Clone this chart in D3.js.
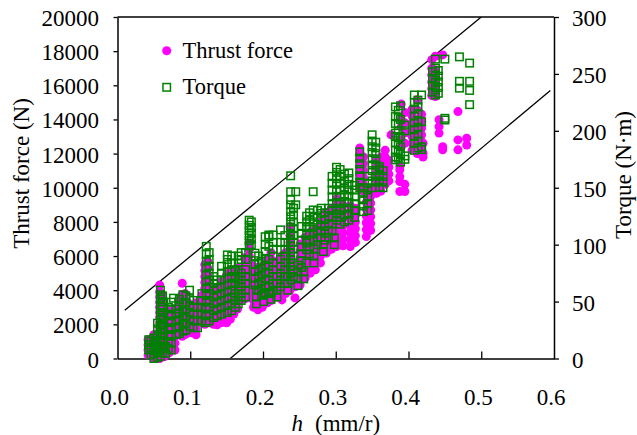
<!DOCTYPE html>
<html>
<head>
<meta charset="utf-8">
<script src="https://cdn.jsdelivr.net/npm/d3@7"></script>
</head>
<body style="margin:0">
<svg id="chart" width="637" height="435"></svg>
<script>
// Axis ticks
const hTicks = [0, 0.1, 0.2, 0.3, 0.4, 0.5, 0.6];
const thrustTicks = [0, 2000, 4000, 6000, 8000, 10000, 12000, 14000, 16000, 18000, 20000];
const torqueTicks = [0, 50, 100, 150, 200, 250, 300];

// Thrust force (N), grouped by feed per revolution h (mm/r)
const thrustGroups = [
  [0.042, [200, 500, 800, 1100]],
  [0.050, [0, 250, 550, 850, 1150, 1390]],
  [0.054, [100, 400, 700, 1000, 1300]],
  [0.058, [0, 300, 600, 900, 1200, 1500, 1800, 2100, 2400, 2700, 3000, 3300, 3600, 3900, 4300]],
  [0.061, [150, 450, 750, 1050, 1350, 1650, 1950, 2250, 2550, 2850, 3150, 3450, 3750]],
  [0.064, [100, 450, 800, 1200]],
  [0.071, [330, 700, 1050, 1400, 1750, 2100, 2450, 2800]],
  [0.075, [500, 850, 1200, 1550, 1900, 2250, 2600]],
  [0.079, [500, 900, 1300, 1700, 2100, 2500, 2850]],
  [0.084, [1400, 1800, 2200, 2600, 3000, 3400]],
  [0.089, [1300, 1650, 2000, 2350, 2700, 3050, 3400, 3750, 4400]],
  [0.093, [1400, 1800, 2200, 2600, 3000, 3400, 3800]],
  [0.097, [1500, 1850, 2200, 2550, 2900, 3250]],
  [0.103, [1500, 1900, 2300, 2700, 3100]],
  [0.108, [1390, 1750, 2100, 2450, 2800, 3260]],
  [0.116, [2100, 2500, 2900, 3300, 3700]],
  [0.120, [2000, 2350, 2700, 3050, 3400, 3750, 4100, 4450, 4800, 5150, 5500]],
  [0.124, [2150, 2500, 2850, 3200, 3550, 3900, 4250, 4600, 4950, 5300, 5700]],
  [0.127, [2200, 2600, 3000, 3400, 3800]],
  [0.132, [2000, 2400, 2800, 3200, 3600, 4000]],
  [0.137, [1970, 2350, 2700, 3050, 3400, 3750, 4100]],
  [0.143, [2100, 2500, 2900, 3300, 3700, 4100, 4500]],
  [0.150, [2090, 2450, 2800, 3150, 3500, 3850, 4200, 4550, 4900]],
  [0.155, [2300, 2700, 3100, 3500, 3900, 4300, 4700, 5100]],
  [0.160, [2600, 2950, 3300, 3650, 4000, 4350, 4700, 5050]],
  [0.165, [2900, 3300, 3700, 4100, 4500, 4900, 5300]],
  [0.170, [3430, 3750, 4100, 4450, 4800, 5150]],
  [0.175, [3500, 3900, 4300, 4700, 5100, 5500, 5900]],
  [0.181, [3600, 4000, 4400, 4800, 5200, 5600, 6000, 6400, 6760]],
  [0.187, [3000, 3400, 3800, 4200, 4600, 5000, 5400]],
  [0.193, [2850, 3200, 3550, 3900, 4250, 4600, 5000]],
  [0.199, [3000, 3400, 3800, 4200, 4600, 5000, 5400]],
  [0.206, [3260, 3600, 3950, 4300, 4650, 5000, 5400, 5800]],
  [0.211, [3400, 3800, 4200, 4600, 5000, 5400, 5800, 6200]],
  [0.216, [3600, 3950, 4300, 4650, 5000, 5350, 5700]],
  [0.221, [3600, 4000, 4400, 4800, 5200, 5600]],
  [0.226, [3430, 3800, 4020, 4400, 4800, 5200, 5600, 6000]],
  [0.231, [3800, 4200, 4600, 5000, 5400, 5800, 6200]],
  [0.237, [4000, 4400, 4800, 5200, 5600, 6000, 6400, 6800, 7200, 7730]],
  [0.244, [3550, 4200, 4600, 5000, 5400]],
  [0.251, [4300, 4700, 5100, 5500, 5900, 6300, 6700]],
  [0.258, [4720, 5100, 5500, 5900, 6300, 6700, 7100]],
  [0.265, [5000, 5400, 5800, 6200, 6600, 7000, 7400]],
  [0.272, [5200, 5600, 6000, 6360, 6800, 7200, 7600]],
  [0.279, [5600, 6000, 6400, 6800, 7200, 7600, 8000]],
  [0.287, [6170, 6560, 6950, 7350, 7750, 8150, 8550]],
  [0.294, [6400, 6800, 7200, 7600, 8000, 8400, 8800]],
  [0.301, [6560, 6950, 7350, 7750, 8150, 8550, 8950, 9350]],
  [0.310, [6600, 7000, 7400, 7800, 8200, 8600, 9000]],
  [0.320, [6560, 6950, 7350, 7750, 8150, 8550, 8950]],
  [0.327, [6800, 7200, 7600, 8000, 8400, 8800]],
  [0.333, [10000, 10400, 10800, 11200, 11600, 12000, 12330]],
  [0.338, [9800, 10200, 10600, 11000, 11400, 11800]],
  [0.342, [7140, 7550, 7950, 8350, 8750, 9150, 9550]],
  [0.348, [7500, 7900, 8300, 8700, 9100, 9500, 9900]],
  [0.356, [9680, 10050, 10450, 10850, 11240, 11640]],
  [0.362, [9800, 10200, 10600, 11000, 11400, 11800]],
  [0.368, [10200, 10600, 11000, 11400, 11800, 12200]],
  [0.373, [10400, 10800, 11200, 11600]],
  [0.376, [13100]],
  [0.388, [9780, 10360, 10650, 11050, 11240]],
  [0.390, [12400, 12800, 13580, 14000, 14900]],
  [0.395, [9780, 10200, 12600, 13200, 13800, 14400]],
  [0.405, [12200, 12600, 13000, 13400, 13800, 14200, 14600]],
  [0.412, [12000, 12400, 12800, 13200, 13600, 14000, 14560, 15150]],
  [0.418, [12300, 12700, 13100, 13500, 13900, 14300]],
  [0.420, [11800, 12020, 12610]],
  [0.432, [15400, 15800, 16200, 16600, 17000, 17500]],
  [0.437, [15340, 15700, 16100, 16500, 16900, 17700]],
  [0.442, [13200, 13580, 13980]],
  [0.447, [12220, 12400, 17780]],
  [0.468, [12220, 12800, 14460]],
  [0.480, [12500, 12900]]
];

// Torque (N·m), grouped by feed per revolution h (mm/r)
const torqueGroups = [
  [0.043, [7.5, 12, 16.5]],
  [0.046, [3, 9, 15]],
  [0.050, [0, 4.5, 9, 13.5, 18]],
  [0.055, [1, 6, 11, 16, 21, 26, 31]],
  [0.059, [2, 7, 11, 16, 20, 25, 29, 34, 38, 43, 47, 52, 56, 60]],
  [0.062, [5, 10, 15, 20, 25, 30, 35, 40, 45, 50, 55]],
  [0.066, [4.5, 10.5]],
  [0.070, [9, 15, 21, 27, 33, 39, 45]],
  [0.074, [7.5, 13.5, 19.5, 25.5, 31.5, 37.5, 43.5, 49.5]],
  [0.077, [53]],
  [0.081, [21, 27, 33, 39, 43.5]],
  [0.085, [22, 28, 34, 40, 46, 52]],
  [0.090, [24, 30, 36, 42, 48, 56]],
  [0.094, [25, 31, 37, 43, 49, 55]],
  [0.099, [28.5, 34.5, 40.5, 46.5, 52.5, 60]],
  [0.104, [27, 33, 39, 45, 51]],
  [0.110, [27, 33, 39, 45]],
  [0.116, [33, 39, 45, 51, 57]],
  [0.122, [31.5, 37.5, 43.5, 49.5, 55.5, 61.5, 67.5, 73.5, 79.5, 85.5, 91.5, 98.5]],
  [0.126, [33, 39, 45, 51, 57, 63, 69, 75, 81, 87, 93]],
  [0.132, [36, 42, 48, 54, 60, 66, 72]],
  [0.137, [37.5, 43.5, 49.5, 55.5, 61.5, 69]],
  [0.143, [39, 45, 51, 57, 63, 69, 75, 81]],
  [0.151, [40.5, 46.5, 52.5, 58.5, 64.5, 70.5, 76.5, 82.5, 87, 91]],
  [0.157, [42, 48, 54, 60, 66, 72, 78, 84, 90]],
  [0.162, [45, 51, 57, 66, 70.5, 76.5]],
  [0.166, [48, 54, 60, 66, 72, 78, 84, 90]],
  [0.170, [51, 57, 63, 69, 75, 87, 93]],
  [0.176, [54, 60, 66, 72, 78, 87, 93]],
  [0.181, [99, 103.5, 108, 112.5, 117, 121.5]],
  [0.184, [100, 105, 110, 115, 120]],
  [0.189, [64.5, 70.5, 76.5, 82.5, 90, 92.5]],
  [0.191, [48, 54, 60]],
  [0.194, [60, 66, 72, 78, 84, 90]],
  [0.198, [55.5, 61.5, 67.5, 73.5, 79.5, 85.5]],
  [0.201, [50, 56]],
  [0.203, [58, 64, 70, 76, 82, 88, 94, 100, 107]],
  [0.208, [57, 63, 69, 75, 81, 87, 98.5, 107, 108.5]],
  [0.211, [52, 58]],
  [0.214, [60, 66, 72, 78, 84, 90, 96, 102, 108.5]],
  [0.219, [54, 60, 66, 72]],
  [0.224, [63, 69, 75, 81, 87, 95.5, 102, 113]],
  [0.230, [66, 72, 78, 84, 90, 96, 102, 108]],
  [0.234, [60, 66, 72]],
  [0.238, [69, 75, 81, 87, 93, 99, 105, 110, 115.5, 120, 124.5, 129, 135, 139.5, 146.5, 160.5]],
  [0.242, [72, 78, 84, 90, 96, 102, 108, 114, 120, 126, 132]],
  [0.245, [135, 146.5]],
  [0.248, [64, 70, 76, 82]],
  [0.253, [80, 86, 92, 98, 104, 110, 116]],
  [0.256, [70, 76]],
  [0.260, [84, 95.5, 101.5, 104, 109.5, 115, 120, 125]],
  [0.264, [92, 98, 104, 110, 116, 122, 128]],
  [0.269, [104, 109.5, 115, 120, 125, 130.5, 146.5]],
  [0.270, [84, 90, 96]],
  [0.275, [100, 106, 112, 118, 124, 130]],
  [0.280, [106.5, 112, 117, 122, 127.5, 132]],
  [0.283, [94, 100]],
  [0.285, [104, 110, 116, 122, 128]],
  [0.290, [106.5, 112.5, 118.5, 124.5, 132]],
  [0.295, [112, 118, 124, 130, 136, 142, 148, 154, 160]],
  [0.298, [100, 106]],
  [0.301, [121.5, 127, 132, 137, 142.5, 148, 153, 158, 163.5, 168]],
  [0.306, [118, 124, 130, 136, 142, 148, 154, 160, 166]],
  [0.312, [120, 126, 132, 138, 144, 150, 156, 162]],
  [0.318, [121.5, 127, 132, 137, 142.5, 148, 153, 158, 163]],
  [0.326, [124, 130, 136, 142, 148, 152]],
  [0.333, [150, 155, 160.5, 166, 171, 176, 181.5]],
  [0.338, [129, 134, 139.5, 145, 150]],
  [0.344, [130, 136, 142, 148, 154, 160]],
  [0.350, [150, 156, 165, 170, 175.5, 181, 186, 191, 196.5]],
  [0.355, [155, 160, 165, 170, 175, 180, 185, 190]],
  [0.360, [150.5, 156, 161, 166.5, 168.5]],
  [0.365, [150, 155, 160, 165]],
  [0.382, [174.5, 177, 183, 189.5, 195, 198, 206.5, 212.5, 221]],
  [0.386, [176, 182, 188, 194, 200, 206, 212, 218]],
  [0.389, [172.5, 180, 186, 195, 210, 222]],
  [0.395, [175, 178, 200, 205]],
  [0.408, [183, 189, 195, 201, 207, 213, 219, 225, 231.5]],
  [0.413, [185, 191, 197, 203, 209, 215, 221, 227]],
  [0.418, [183.5, 186, 208, 231.5]],
  [0.433, [234, 240, 246, 252]],
  [0.437, [231.5, 236, 239, 244.5, 249, 255, 263]],
  [0.441, [233, 238, 243, 248, 253]],
  [0.450, [209.5, 211, 263]],
  [0.470, [237.5, 243.5, 265]],
  [0.484, [223, 235.5, 243.5, 259.5]]
];

// Envelope lines (h, thrust N)
const upperBound = [[0.01, 2820], [0.5, 20000]];
const lowerBound = [[0.155, 0], [0.595, 15700]];

const FONT = "23px";

const plot = { left: 117.5, right: 554, top: 17, bottom: 358.5 };
const svg = d3.select("#chart");

const x = d3.scaleLinear().domain([0, 0.6]).range([plot.left, plot.right]);
const yThrust = d3.scaleLinear().domain([0, 20000]).range([plot.bottom, plot.top]);
const yTorque = d3.scaleLinear().domain([0, 300]).range([plot.bottom, plot.top]);

svg.append("defs").append("clipPath").attr("id", "plot-area")
  .append("rect")
  .attr("x", plot.left).attr("y", plot.top)
  .attr("width", plot.right - plot.left).attr("height", plot.bottom - plot.top);

// Left axis (thrust)
const gL = svg.append("g").attr("transform", `translate(${plot.left},0)`)
  .call(d3.axisLeft(yThrust).tickValues(thrustTicks).tickSize(4).tickSizeOuter(0).tickPadding(14.5).tickFormat(d3.format("d")));
// Right axis (torque)
const gR = svg.append("g").attr("transform", `translate(${plot.right},0)`)
  .call(d3.axisRight(yTorque).tickValues(torqueTicks).tickSize(5).tickSizeOuter(0).tickPadding(13).tickFormat(d3.format("d")));
// Bottom axis (h), ticks pointing inward
const gB = svg.append("g").attr("transform", `translate(0,${plot.bottom})`)
  .call(d3.axisBottom(x).tickValues(hTicks).tickSize(-7).tickSizeOuter(0).tickFormat(d3.format(".1f")));

[gL, gR, gB].forEach(g => {
  g.attr("font-family", null).attr("font-size", null);
  g.select(".domain").attr("stroke", "#000").attr("stroke-width", 1.5);
  g.selectAll(".tick line").attr("stroke", "#000").attr("stroke-width", 1.3);
  g.selectAll(".tick text")
    .style("font-family", "Liberation Serif")
    .style("font-size", FONT)
    .attr("fill", "#000");
});
gL.selectAll(".tick text").attr("dy", "0.37em");
gR.selectAll(".tick text").attr("dy", "0.37em");
gB.selectAll(".tick text").attr("y", 46).attr("dy", 0).attr("dx", -3.5);
gB.selectAll(".tick").filter(d => d === 0 || d === 0.6).select("line").remove();

// Top frame line
svg.append("line")
  .attr("x1", plot.left).attr("x2", plot.right)
  .attr("y1", plot.top).attr("y2", plot.top)
  .attr("stroke", "#000").attr("stroke-width", 1.5);

// Envelope lines
const line = d3.line().x(d => x(d[0])).y(d => yThrust(d[1]));
svg.append("g").attr("clip-path", "url(#plot-area)")
  .selectAll("path").data([upperBound, lowerBound]).join("path")
  .attr("d", line).attr("fill", "none").attr("stroke", "#000").attr("stroke-width", 1.3);

const thrustPts = thrustGroups.flatMap(([h, vals]) => vals.map(v => ({ h, v })));
const torquePts = torqueGroups.flatMap(([h, vals]) => vals.map(v => ({ h, v })));

const R = 4.5, S = 7.5;
svg.append("g").selectAll("circle").data(thrustPts).join("circle")
  .attr("cx", d => x(d.h)).attr("cy", d => yThrust(d.v)).attr("r", R)
  .attr("fill", "#ff00ff");

svg.append("g").selectAll("rect").data(torquePts).join("rect")
  .attr("x", d => x(d.h) - S / 2).attr("y", d => yTorque(d.v) - S / 2)
  .attr("width", S).attr("height", S)
  .attr("fill", "none").attr("stroke", "#008000").attr("stroke-width", 1.5);

// Legend
svg.append("circle").attr("cx", 166.7).attr("cy", 50.7).attr("r", R).attr("fill", "#ff00ff");
svg.append("text").attr("x", 182.5).attr("y", 58.3)
  .style("font-family", "Liberation Serif").style("font-size", "22.5px").text("Thrust force");
svg.append("rect").attr("x", 166.7 - S / 2).attr("y", 87.3 - S / 2).attr("width", S).attr("height", S)
  .attr("fill", "none").attr("stroke", "#008000").attr("stroke-width", 1.5);
svg.append("text").attr("x", 182.5).attr("y", 93.8)
  .style("font-family", "Liberation Serif").style("font-size", "22.5px").text("Torque");

// Axis titles
svg.append("text")
  .attr("transform", "translate(29,173.5) rotate(-90)")
  .attr("text-anchor", "middle")
  .style("font-family", "Liberation Serif").style("font-size", FONT)
  .text("Thrust force (N)");
svg.append("text")
  .attr("transform", "translate(631,175) rotate(-90)")
  .attr("text-anchor", "middle")
  .style("font-family", "Liberation Serif").style("font-size", FONT)
  .text("Torque (N·m)");
svg.append("text").attr("x", 291.5).attr("y", 431)
  .style("font-family", "Liberation Serif").style("font-size", FONT).style("font-style", "italic")
  .text("h");
svg.append("text").attr("x", 315).attr("y", 431)
  .style("font-family", "Liberation Serif").style("font-size", FONT)
  .text("(mm/r)");
</script>
</body>
</html>
